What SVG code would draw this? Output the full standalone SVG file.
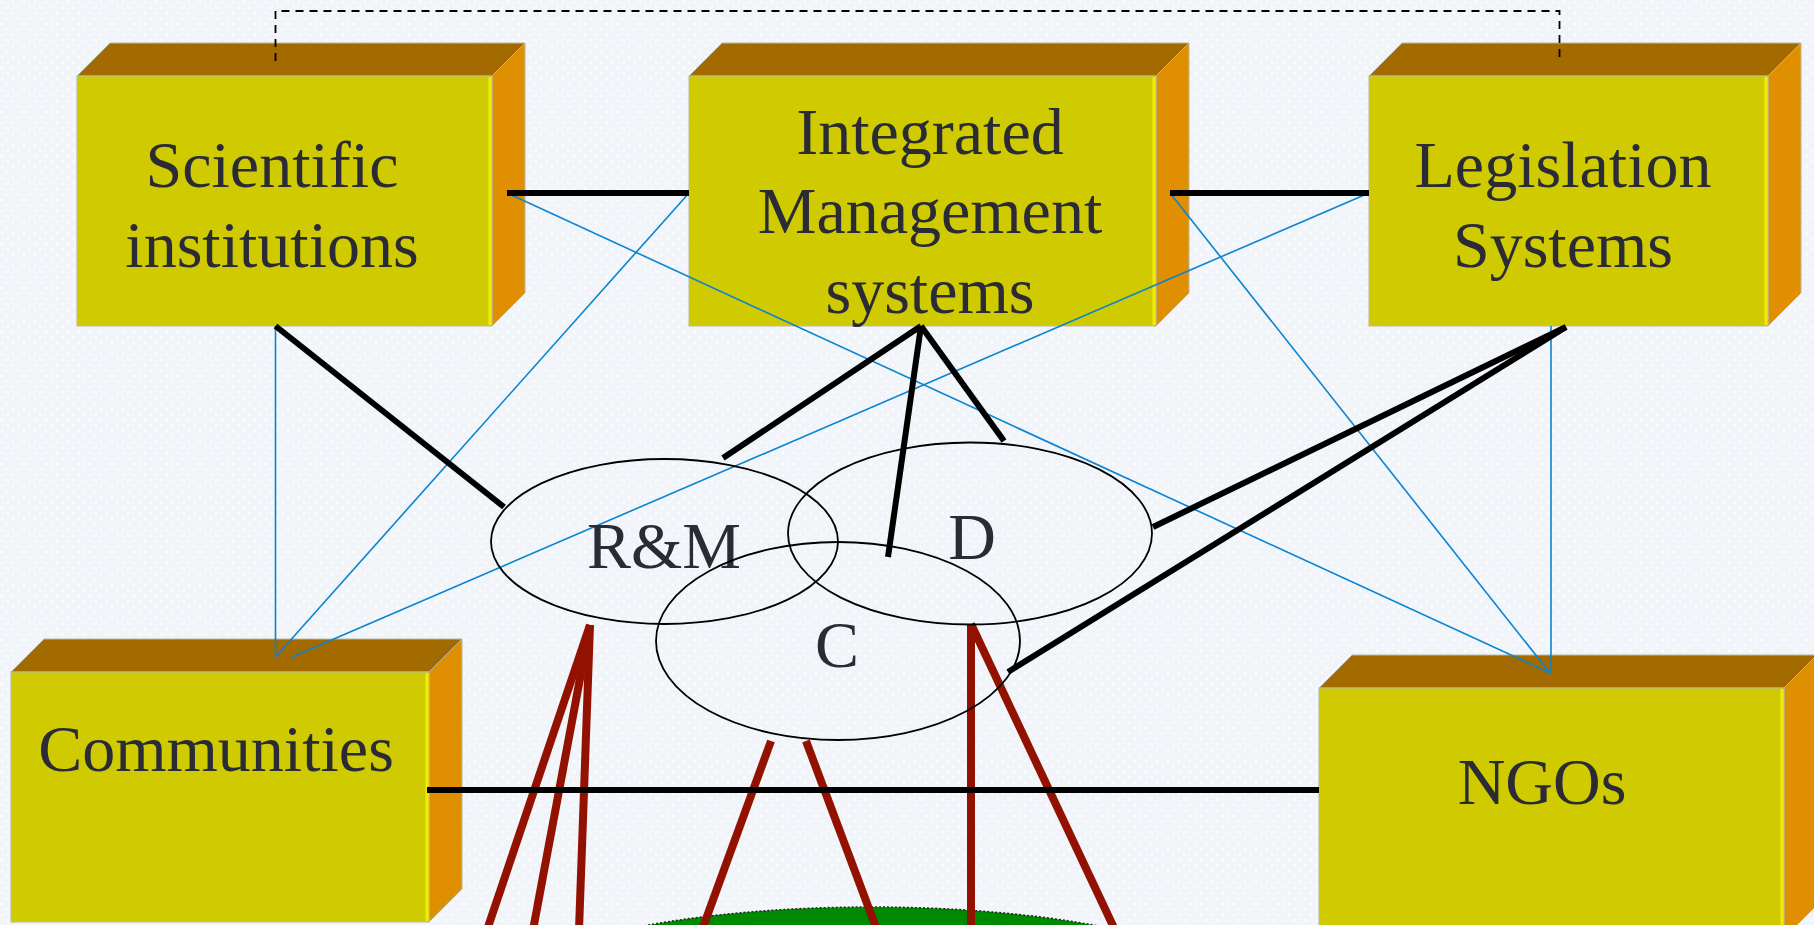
<svg xmlns="http://www.w3.org/2000/svg" width="1814" height="925" viewBox="0 0 1814 925">
<defs>
<pattern id="dots" x="0" y="0" width="11" height="11" patternUnits="userSpaceOnUse">
<rect width="11" height="11" fill="#f1f4f8"/>
<rect x="1" y="1" width="2" height="2" fill="#ffffff"/>
<rect x="6.5" y="6.5" width="2" height="2" fill="#ffffff"/>
</pattern>
<style>
.front{fill:#cfcb00;stroke:#b8b8a0;stroke-width:1}
.top{fill:#a36a00;stroke:#b8b8a0;stroke-width:1}
.side{fill:#e08f00;stroke:#b8b8a0;stroke-width:1}
.hl{stroke:#f2ee00;stroke-width:3}
.lbl{font-family:"Liberation Serif","Times New Roman",serif;font-size:66px;fill:#2b2b35;text-anchor:middle}
.blk{stroke:#000;stroke-width:6;fill:none}
.blue{stroke:#0a84d0;stroke-width:1.6;fill:none}
.red{stroke:#931100;stroke-width:8;fill:none}
.ell{stroke:#000;stroke-width:1.8;fill:none}
</style>
</defs>
<rect width="1814" height="925" fill="url(#dots)"/>

<g id="ground">
<ellipse cx="871" cy="1000" rx="376" ry="93" fill="#008a00" stroke="#1a2a1a" stroke-width="1.5" stroke-dasharray="2 2"/>
</g>

<g id="node-scientific">
<polygon class="top" points="77,76 110,43 525,43 492,76"/>
<polygon class="side" points="492,76 525,43 525,293 492,326"/>
<rect class="front" x="77" y="76" width="415" height="250"/>
<line class="hl" x1="490" y1="77" x2="490" y2="325"/>
<text class="lbl" x="272" y="187">Scientific</text>
<text class="lbl" x="272" y="267">institutions</text>
</g>

<g id="node-integrated">
<polygon class="top" points="689,76 722,43 1189,43 1156,76"/>
<polygon class="side" points="1156,76 1189,43 1189,293 1156,326"/>
<rect class="front" x="689" y="76" width="467" height="250"/>
<line class="hl" x1="1154" y1="77" x2="1154" y2="325"/>
<text class="lbl" x="930" y="154">Integrated</text>
<text class="lbl" x="930" y="233">Management</text>
<text class="lbl" x="930" y="313">systems</text>
</g>

<g id="node-legislation">
<polygon class="top" points="1369,76 1402,43 1801,43 1768,76"/>
<polygon class="side" points="1768,76 1801,43 1801,293 1768,326"/>
<rect class="front" x="1369" y="76" width="399" height="250"/>
<line class="hl" x1="1766" y1="77" x2="1766" y2="325"/>
<text class="lbl" x="1563" y="187">Legislation</text>
<text class="lbl" x="1563" y="267">Systems</text>
</g>

<g id="node-communities">
<polygon class="top" points="11,672 44,639 462,639 429,672"/>
<polygon class="side" points="429,672 462,639 462,889 429,922"/>
<rect class="front" x="11" y="672" width="418" height="250"/>
<line class="hl" x1="427" y1="673" x2="427" y2="921"/>
<text class="lbl" x="216" y="771">Communities</text>
</g>

<g id="node-ngos">
<polygon class="top" points="1319,688 1352,655 1817,655 1784,688"/>
<polygon class="side" points="1784,688 1817,655 1817,905 1784,938"/>
<rect class="front" x="1319" y="688" width="465" height="260"/>
<line class="hl" x1="1782" y1="689" x2="1782" y2="930"/>
<text class="lbl" x="1542" y="804">NGOs</text>
</g>

<g id="connectors">
<polyline points="275.5,61 275.5,11 1559.5,11 1559.5,61" fill="none" stroke="#000" stroke-width="1.8" stroke-dasharray="8 6"/>

<line class="blue" x1="507" y1="193" x2="1550" y2="673"/>
<line class="blue" x1="1170" y1="193" x2="1550" y2="673"/>
<line class="blue" x1="1551" y1="326" x2="1551" y2="673"/>
<line class="blue" x1="275.5" y1="326" x2="275.5" y2="657"/>
<line class="blue" x1="689" y1="193" x2="275.5" y2="657"/>
<line class="blue" x1="1369" y1="193" x2="292" y2="657"/>

<line class="red" x1="590" y1="625" x2="487" y2="930"/>
<line class="red" x1="590" y1="625" x2="533" y2="930"/>
<line class="red" x1="590" y1="625" x2="579" y2="930"/>
<line class="red" x1="771" y1="741" x2="702" y2="930"/>
<line class="red" x1="806" y1="741" x2="877" y2="930"/>
<line class="red" x1="971" y1="624" x2="971" y2="930"/>
<line class="red" x1="971" y1="624" x2="1115" y2="930"/>

<line class="blk" x1="507" y1="193" x2="689" y2="193"/>
<line class="blk" x1="1170" y1="193" x2="1369" y2="193"/>
<line class="blk" x1="427" y1="790" x2="1319" y2="790"/>
<line class="blk" x1="275.5" y1="326" x2="504" y2="507"/>
<line class="blk" x1="921" y1="326" x2="723" y2="458"/>
<line class="blk" x1="921" y1="326" x2="888" y2="557"/>
<line class="blk" x1="921" y1="326" x2="1004" y2="441"/>
<line class="blk" x1="1566" y1="327" x2="1153" y2="527"/>
<line class="blk" x1="1566" y1="327" x2="1008" y2="672"/>
</g>

<g id="node-rm">
<ellipse class="ell" cx="664.5" cy="541.5" rx="173.5" ry="82.5"/>
<text class="lbl" x="664" y="568">R&amp;M</text>
</g>
<g id="node-d">
<ellipse class="ell" cx="970" cy="533.5" rx="182" ry="91"/>
<text class="lbl" x="972" y="559">D</text>
</g>
<g id="node-c">
<ellipse class="ell" cx="838" cy="641" rx="182" ry="99"/>
<text class="lbl" x="837" y="667">C</text>
</g>
</svg>
